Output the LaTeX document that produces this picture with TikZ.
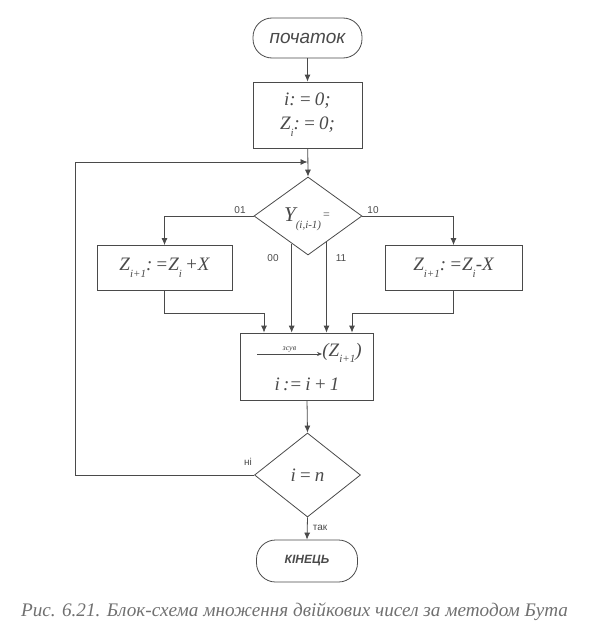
\documentclass[tikz,border=0pt]{standalone}
\usepackage{fontspec}
\setmainfont{Liberation Serif}
\setsansfont{Liberation Sans}
\usetikzlibrary{shapes.geometric,arrows.meta,calc}
\definecolor{ink}{HTML}{4A4A4A}
\definecolor{capc}{HTML}{707070}
\newcommand{\lowsub}[1]{\raisebox{-0.35em}{\fontsize{11}{11}\selectfont #1}}
\begin{document}
\begin{tikzpicture}[x=1pt,y=-1pt,
  line width=0.8pt, draw=ink, text=ink,
  every node/.style={inner sep=0pt},
  term/.style={draw=ink, rounded corners=19pt, minimum width=109pt, minimum height=40pt, font=\sffamily\itshape\fontsize{19}{19}\selectfont},
  proc/.style={draw=ink, rectangle, font=\fontsize{19}{22}\selectfont\itshape},
  txt/.style={font=\fontsize{19}{22}\selectfont\itshape},
  dec/.style={draw=ink, diamond, minimum width=108pt, minimum height=78pt, font=\fontsize{19}{22}\selectfont\itshape},
  lab/.style={font=\sffamily\fontsize{10}{10}\selectfont, text=ink},
  arr/.style={-{Latex[length=7pt,width=6pt]}, draw=ink},
  thinarr/.style={-{Stealth[length=5pt,width=4pt]}, draw=ink, line width=0.6pt}]
\useasboundingbox (0,0) rectangle (589,634);
\node[term] (start) at (307.5,38) {початок};
\node[proc, minimum width=109pt, minimum height=66pt, align=center] (init) at (307.5,115)
  {i:\,=\,0;\\[2pt]Z\lowsub{i}:\,=\,0;};
\node[dec] (d1) at (308,216) {};
\node[font=\fontsize{21}{21}\selectfont\itshape] (ylab) at (307,219) {Y\lowsub{(i,i-1)}\raisebox{0.1em}{\fontsize{12}{12}\selectfont\upshape\,=}};
\node[proc, minimum width=135pt, minimum height=45pt] (lbox) at (164.5,268) {Z\lowsub{i+1}:\,=Z\lowsub{i}\,+X};
\node[proc, minimum width=137pt, minimum height=45pt] (rbox) at (453.5,268) {Z\lowsub{i+1}:\,=Z\lowsub{i}-X};
\node[proc, minimum width=133pt, minimum height=67pt] (pr) at (306.5,366.5) {};
\node[txt, anchor=west] (zs) at (322,353) {(Z\lowsub{i+1})};
\coordinate (shs) at (257,354);
\draw[thinarr] (shs) -- node[above=1.5pt, font=\itshape\fontsize{8}{8}\selectfont] (shlab) {зсув} (zs.west |- shs);
\node[txt] (inc) at (307,384) {i\,:=\,i\,+\,1};
\node[dec, minimum width=106pt, minimum height=84pt] (d2) at (307.5,475) {i\,=\,n};
\node[term, minimum width=101pt, minimum height=42pt, font=\sffamily\itshape\bfseries\fontsize{12}{12}\selectfont] (end) at (307,561) {КІНЕЦЬ};
\node[font=\itshape\fontsize{19.2}{20}\selectfont, text=capc] (cap) at (294.5,612) {Рис. 6.21. Блок-схема множення двійкових чисел за методом Бута};

\coordinate (loopin) at (307.5,162);
\coordinate (lt) at (75,162);
\coordinate (lb) at (75,475);
\coordinate (a00) at ($(d1.west)!0.7!(d1.south)$);
\coordinate (a11) at ($(d1.east)!0.66!(d1.south)$);
\coordinate (lj) at (164.5,313);
\coordinate (rj) at (453.5,313);
\coordinate (pl) at (264,313);
\coordinate (prr) at (352,313);

\draw[arr] (start) -- (init);
\draw[arr] (init) -- (d1.north);
\draw[arr] (d2.west) -- (lb) -- (lt) -- (loopin);
\draw[arr] (d1.west) -| (lbox.north);
\draw[arr] (d1.east) -| (rbox.north);
\draw[arr] (a00) -- (a00 |- pr.north);
\draw[arr] (a11) -- (a11 |- pr.north);
\draw (lbox.south) -- (lj) -- (pl);
\draw[arr] (pl) -- (pl |- pr.north);
\draw (rbox.south) -- (rj) -- (prr);
\draw[arr] (prr) -- (prr |- pr.north);
\draw[arr] (pr) -- (d2.north);
\draw[arr] (d2.south) -- (end.north);

\node[lab] (l01) at (240,210) {01};
\node[lab] (l10) at (373,210) {10};
\node[lab] (l00) at (273,258) {00};
\node[lab] (l11) at (341,258) {11};
\node[lab] (lni) at (248,462) {ні};
\node[lab] (ltak) at (320,528) {так};
\end{tikzpicture}
\end{document}
